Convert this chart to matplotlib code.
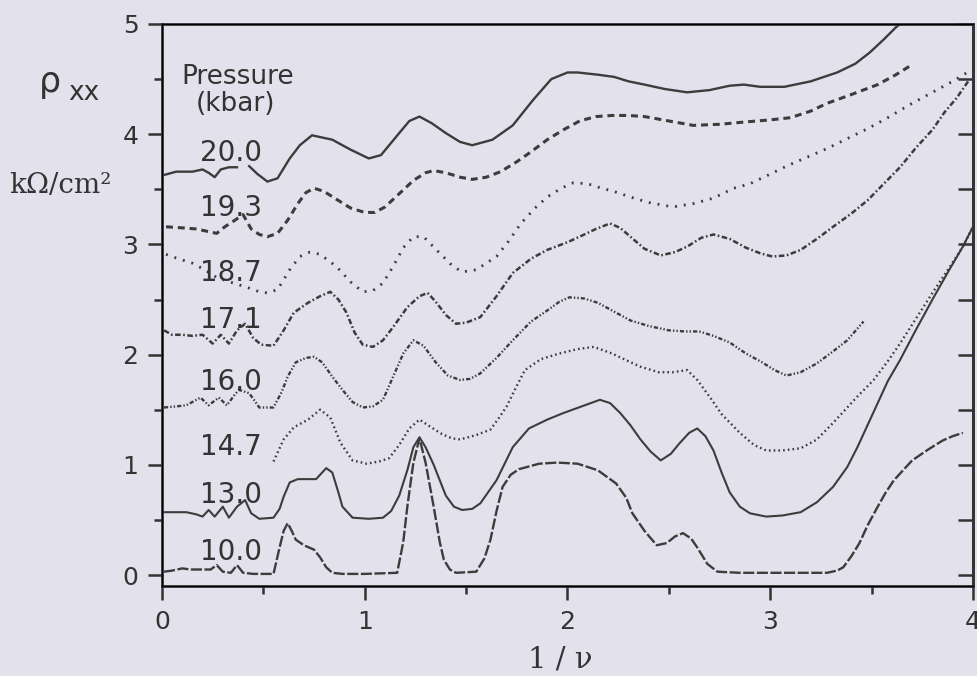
import numpy as np
import matplotlib
matplotlib.use("Agg")
import matplotlib.pyplot as plt

plt.rcParams["lines.scale_dashes"] = False
plt.rcParams["font.family"] = "DejaVu Sans"

# curves, one pair of lists per pressure
x_200 = [0.01, 0.07, 0.15, 0.20, 0.23, 0.26, 0.29, 0.33, 0.37, 0.40, 0.43, 0.47, 0.52, 0.57,
         0.63, 0.68, 0.74, 0.84, 0.93, 1.02, 1.08, 1.17, 1.22, 1.27, 1.33, 1.40, 1.47, 1.53,
         1.63, 1.73, 1.83, 1.92, 2.00, 2.05, 2.15, 2.23, 2.30, 2.38, 2.48, 2.59, 2.70, 2.80,
         2.87, 2.95, 3.07, 3.20, 3.33, 3.42, 3.49, 3.56, 3.62, 3.64]
y_200 = [3.63, 3.66, 3.66, 3.68, 3.65, 3.61, 3.68, 3.70, 3.70, np.nan, 3.71, 3.64, 3.57, 3.60,
         3.78, 3.90, 3.99, 3.95, 3.86, 3.78, 3.81, 4.01, 4.12, 4.16, 4.10, 4.01, 3.93, 3.90,
         3.95, 4.08, 4.31, 4.50, 4.56, 4.56, 4.54, 4.52, 4.48, 4.45, 4.41, 4.38, 4.40, 4.44,
         4.45, 4.43, 4.43, 4.48, 4.56, 4.64, 4.74, 4.86, 4.97, 5.0]

x_193 = [0.02, 0.10, 0.17, 0.22, 0.27, 0.31, 0.36, 0.40, 0.44, 0.48, 0.52, 0.57, 0.62, 0.67,
         0.71, 0.75, 0.80, 0.86, 0.93, 1.00, 1.05, 1.10, 1.17, 1.24, 1.30, 1.34, 1.40, 1.47,
         1.53, 1.60, 1.67, 1.75, 1.82, 1.90, 1.98, 2.06, 2.14, 2.22, 2.30, 2.38, 2.50, 2.62,
         2.75, 2.87, 3.00, 3.10, 3.20, 3.28, 3.40, 3.53, 3.62, 3.69]
y_193 = [3.16, 3.15, 3.14, 3.12, 3.10, 3.16, 3.22, 3.27, 3.14, 3.09, 3.07, 3.10, 3.22, 3.37,
         3.47, 3.51, 3.48, 3.41, 3.33, 3.29, 3.29, 3.34, 3.46, 3.58, 3.65, 3.67, 3.65, 3.61,
         3.59, 3.61, 3.66, 3.75, 3.84, 3.95, 4.04, 4.12, 4.16, 4.17, 4.17, 4.16, 4.12, 4.08,
         4.09, 4.11, 4.13, 4.15, 4.21, 4.28, 4.36, 4.45, 4.54, 4.62]

x_187 = [0.02, 0.08, 0.15, 0.21, 0.27, 0.35, 0.42, 0.48, 0.52, 0.57, 0.63, 0.68, 0.73, 0.78,
         0.86, 0.93, 0.99, 1.04, 1.09, 1.14, 1.19, 1.24, 1.29, 1.37, 1.43, 1.48, 1.55, 1.65,
         1.71, 1.77, 1.84, 1.90, 1.97, 2.03, 2.10, 2.15, 2.23, 2.31, 2.40, 2.52, 2.62, 2.72,
         2.82, 2.90, 2.98, 3.08, 3.18, 3.28, 3.38, 3.48, 3.58, 3.68, 3.82, 3.90, 3.98]
y_187 = [2.91, 2.87, 2.83, 2.77, 2.70, 2.65, 2.61, 2.57, 2.56, 2.59, 2.77, 2.89, 2.93, 2.91,
         2.80, 2.66, 2.57, 2.58, 2.65, 2.80, 2.97, 3.07, 3.07, 2.92, 2.81, 2.75, 2.77, 2.89,
         3.03, 3.19, 3.33, 3.43, 3.51, 3.56, 3.55, 3.52, 3.48, 3.43, 3.38, 3.34, 3.37, 3.42,
         3.51, 3.55, 3.62, 3.71, 3.79, 3.87, 3.96, 4.05, 4.15, 4.26, 4.40, 4.48, 4.57]

x_171 = [0.01, 0.05, 0.10, 0.15, 0.20, 0.25, 0.29, 0.33, 0.37, 0.41, 0.45, 0.49, 0.55, 0.60,
         0.65, 0.72, 0.78, 0.83, 0.87, 0.91, 0.95, 0.99, 1.04, 1.09, 1.14, 1.21, 1.27, 1.31,
         1.35, 1.40, 1.45, 1.50, 1.57, 1.65, 1.73, 1.82, 1.90, 2.00, 2.06, 2.14, 2.21, 2.26,
         2.31, 2.38, 2.46, 2.53, 2.59, 2.66, 2.72, 2.80, 2.88, 2.95, 3.01, 3.08, 3.15, 3.23,
         3.31, 3.40, 3.48, 3.56, 3.64, 3.72, 3.80, 3.86, 3.92, 3.98]
y_171 = [2.22, 2.18, 2.18, 2.17, 2.18, 2.10, 2.18, 2.10, 2.22, 2.28, 2.15, 2.09, 2.08, 2.22,
         2.38, 2.47, 2.53, 2.57, 2.50, 2.38, 2.20, 2.09, 2.07, 2.13, 2.25, 2.43, 2.53, 2.56,
         2.48, 2.36, 2.28, 2.29, 2.34, 2.53, 2.74, 2.87, 2.95, 3.02, 3.07, 3.14, 3.19, 3.15,
         3.07, 2.96, 2.90, 2.93, 2.98, 3.06, 3.09, 3.05, 2.97, 2.92, 2.89, 2.90, 2.95, 3.05,
         3.16, 3.28, 3.40, 3.55, 3.70, 3.88, 4.04, 4.20, 4.33, 4.49]

x_160 = [0.01, 0.07, 0.12, 0.16, 0.19, 0.23, 0.28, 0.32, 0.36, 0.38, 0.43, 0.48, 0.55, 0.59,
         0.62, 0.66, 0.71, 0.75, 0.79, 0.84, 0.89, 0.94, 0.99, 1.04, 1.09, 1.14, 1.19, 1.24,
         1.29, 1.35, 1.41, 1.47, 1.52, 1.57, 1.65, 1.73, 1.82, 1.90, 1.96, 2.01, 2.08, 2.15,
         2.23, 2.31, 2.40, 2.50, 2.58, 2.65, 2.72, 2.80, 2.88, 2.96, 3.02, 3.08, 3.15, 3.23,
         3.31, 3.38, 3.46]
y_160 = [1.52, 1.53, 1.54, 1.58, 1.61, 1.54, 1.61, 1.54, 1.64, 1.68, 1.65, 1.52, 1.52, 1.66,
         1.80, 1.93, 1.97, 1.98, 1.93, 1.80, 1.68, 1.57, 1.52, 1.53, 1.59, 1.80, 2.01, 2.13,
         2.08, 1.93, 1.81, 1.77, 1.78, 1.83, 1.97, 2.13, 2.30, 2.40, 2.48, 2.52, 2.51, 2.47,
         2.39, 2.31, 2.26, 2.22, 2.21, 2.21, 2.17, 2.11, 2.01, 1.93, 1.86, 1.81, 1.84, 1.92,
         2.03, 2.13, 2.30]

x_147 = [0.55, 0.58, 0.60, 0.65, 0.72, 0.78, 0.83, 0.88, 0.94, 1.01, 1.07, 1.12, 1.17, 1.22,
         1.27, 1.32, 1.38, 1.43, 1.47, 1.55, 1.62, 1.66, 1.70, 1.74, 1.79, 1.87, 1.96, 2.05,
         2.13, 2.22, 2.30, 2.36, 2.45, 2.52, 2.59, 2.64, 2.70, 2.76, 2.85, 2.92, 2.98, 3.06,
         3.15, 3.23, 3.31, 3.38, 3.43, 3.51, 3.58, 3.64, 3.72, 3.80, 3.88, 3.95, 4.00]
y_147 = [1.03, 1.15, 1.23, 1.34, 1.41, 1.50, 1.43, 1.20, 1.04, 1.01, 1.03, 1.06, 1.18, 1.33,
         1.41, 1.35, 1.28, 1.24, 1.23, 1.27, 1.32, 1.42, 1.53, 1.68, 1.86, 1.96, 2.01, 2.05,
         2.07, 2.01, 1.94, 1.89, 1.84, 1.84, 1.86, 1.77, 1.62, 1.46, 1.29, 1.18, 1.13, 1.13,
         1.15, 1.23, 1.38, 1.52, 1.62, 1.77, 1.94, 2.10, 2.33, 2.56, 2.78, 2.98, 3.16]

x_130 = [0.01, 0.07, 0.12, 0.17, 0.20, 0.23, 0.26, 0.30, 0.33, 0.37, 0.41, 0.44, 0.48, 0.55,
         0.58, 0.60, 0.63, 0.67, 0.72, 0.76, 0.81, 0.84, 0.87, 0.89, 0.94, 1.02, 1.09, 1.13,
         1.17, 1.21, 1.24, 1.27, 1.30, 1.34, 1.40, 1.44, 1.48, 1.53, 1.57, 1.65, 1.73, 1.81,
         1.90, 1.98, 2.07, 2.16, 2.21, 2.26, 2.31, 2.36, 2.41, 2.46, 2.51, 2.55, 2.60, 2.64,
         2.68, 2.72, 2.76, 2.80, 2.85, 2.90, 2.98, 3.06, 3.15, 3.23, 3.31, 3.38, 3.43, 3.48,
         3.53, 3.58, 3.64, 3.72, 3.80, 3.88, 3.95, 4.00]
y_130 = [0.57, 0.57, 0.57, 0.55, 0.53, 0.59, 0.53, 0.62, 0.52, 0.62, 0.68, 0.56, 0.51, 0.52,
         0.60, 0.71, 0.84, 0.87, 0.87, 0.87, 0.97, 0.93, 0.75, 0.62, 0.52, 0.51, 0.52, 0.58,
         0.72, 0.95, 1.16, 1.25, 1.16, 1.00, 0.72, 0.62, 0.59, 0.60, 0.65, 0.86, 1.16, 1.33,
         1.41, 1.47, 1.53, 1.59, 1.56, 1.47, 1.36, 1.23, 1.12, 1.04, 1.10, 1.19, 1.29, 1.33,
         1.26, 1.13, 0.93, 0.75, 0.62, 0.56, 0.53, 0.54, 0.57, 0.66, 0.80, 0.98, 1.16, 1.36,
         1.56, 1.76, 1.95, 2.23, 2.50, 2.76, 2.98, 3.16]

x_100 = [0.01, 0.05, 0.10, 0.14, 0.19, 0.24, 0.27, 0.30, 0.34, 0.37, 0.40, 0.45, 0.55, 0.58,
         0.60, 0.62, 0.64, 0.66, 0.70, 0.75, 0.78, 0.81, 0.84, 0.89, 1.00, 1.16, 1.19, 1.21,
         1.24, 1.27, 1.30, 1.34, 1.37, 1.39, 1.42, 1.45, 1.55, 1.59, 1.62, 1.65, 1.68, 1.72,
         1.76, 1.86, 1.95, 2.05, 2.15, 2.24, 2.29, 2.32, 2.38, 2.44, 2.49, 2.53, 2.57, 2.61,
         2.64, 2.69, 2.74, 2.85, 3.00, 3.15, 3.28, 3.33, 3.36, 3.40, 3.44, 3.48, 3.53, 3.57,
         3.61, 3.66, 3.70, 3.78, 3.85, 3.90, 3.95]
y_100 = [0.03, 0.04, 0.06, 0.05, 0.05, 0.05, 0.09, 0.03, 0.02, 0.09, 0.02, 0.01, 0.01, 0.25,
         0.40, 0.47, 0.40, 0.32, 0.27, 0.23, 0.16, 0.07, 0.02, 0.01, 0.01, 0.02, 0.30, 0.62,
         1.02, 1.24, 1.02, 0.62, 0.30, 0.14, 0.05, 0.02, 0.03, 0.15, 0.32, 0.58, 0.80, 0.91,
         0.96, 1.01, 1.02, 1.01, 0.95, 0.83, 0.70, 0.56, 0.40, 0.27, 0.29, 0.35, 0.38, 0.33,
         0.25, 0.10, 0.03, 0.02, 0.02, 0.02, 0.02, 0.04, 0.07, 0.17, 0.29, 0.45, 0.62, 0.75,
         0.86, 0.96, 1.04, 1.14, 1.22, 1.26, 1.29]

pressures = ["20.0", "19.3", "18.7", "17.1", "16.0", "14.7", "13.0", "10.0"]
label_y = [3.83, 3.33, 2.74, 2.31, 1.75, 1.16, 0.73, 0.21]

bg = "#e3e1ec"
ink = "#3c3c3c"

fig = plt.figure(figsize=(9.77, 6.76), dpi=100, facecolor=bg)
ax = fig.add_axes([0.1658, 0.1331, 0.8301, 0.8314], facecolor=bg)

ax.plot(x_200, y_200, color=ink, lw=1.7)
ax.plot(x_193, y_193, color=ink, lw=2.2, dashes=(5, 3.5))
ax.plot(x_187, y_187, color=ink, lw=2.0, dashes=(1.4, 5.0))
ax.plot(x_171, y_171, color=ink, lw=1.8, dashes=(4, 1.8, 1.2, 1.8))
ax.plot(x_160, y_160, color=ink, lw=1.7, dashes=(3, 1.5, 1, 1.5, 1, 1.5))
ax.plot(x_147, y_147, color=ink, lw=1.7, dashes=(1.2, 2.2))
ax.plot(x_130, y_130, color=ink, lw=1.5)
ax.plot(x_100, y_100, color=ink, lw=1.7, dashes=(8, 1.8))

for p, yy in zip(pressures, label_y):
    ax.text(0.34, yy, p, fontsize=20, color="#333333", ha="center", va="center")
ax.text(0.375, 4.52, "Pressure", fontsize=19, color="#333333", ha="center", va="center")
ax.text(0.365, 4.27, "(kbar)", fontsize=19, color="#333333", ha="center", va="center")

ax.set_xlim(0, 4)
ax.set_ylim(-0.1, 5)
ax.set_xticks([0, 1, 2, 3, 4])
ax.set_xticks([0.5, 1.5, 2.5, 3.5], minor=True)
ax.set_yticks([0, 1, 2, 3, 4, 5])
ax.set_yticks([0.5, 1.5, 2.5, 3.5, 4.5], minor=True)
ax.tick_params(which="both", direction="out", color="#333333", width=1.8,
               labelsize=18, labelcolor="#333333", right=False, top=False)
ax.tick_params(which="major", length=10, pad=7)
ax.tick_params(which="minor", length=6)
for s in ax.spines.values():
    s.set_linewidth(2.0)
    s.set_color("#333333")

# inward ticks on the right spine every 0.5
ax2 = ax.twinx()
ax2.set_ylim(ax.get_ylim())
ax2.set_yticks(np.arange(0, 5.01, 0.5))
ax2.tick_params(direction="in", length=11, width=1.8, color="#333333", labelright=False)
ax2.spines["right"].set_linewidth(2.0)
ax2.spines["right"].set_color("#333333")

fig.text(0.051, 0.879, "ρ", fontsize=25, color="#333333", ha="center", va="center")
fig.text(0.086, 0.862, "xx", fontsize=19, color="#333333", ha="center", va="center")
fig.text(0.062, 0.725, "kΩ/cm²", fontsize=20, family="DejaVu Serif", color="#333333",
         ha="center", va="center")
fig.text(0.573, 0.024, "1 / ν", fontsize=21, family="DejaVu Serif", color="#333333",
         ha="center", va="center")

fig.savefig("out.png", dpi=100, facecolor=bg)
